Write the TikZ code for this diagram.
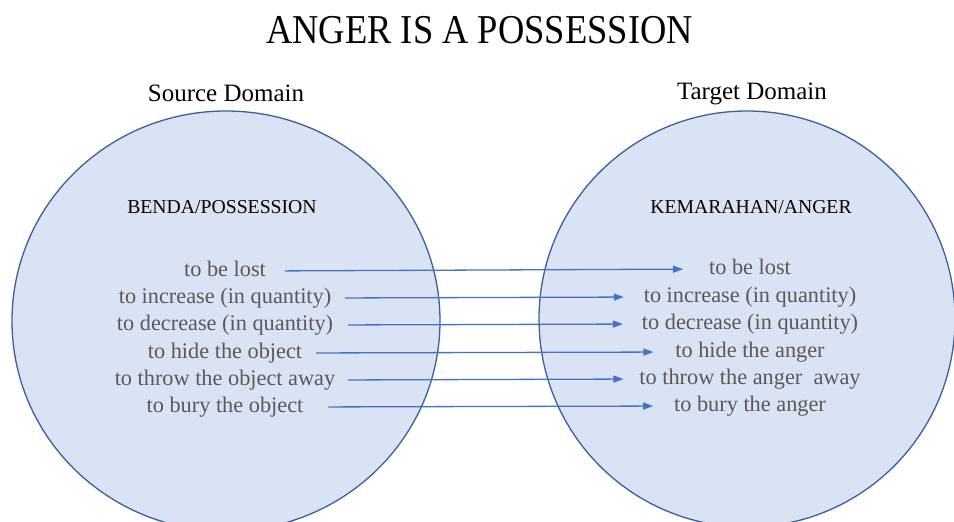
\documentclass[tikz,border=0pt]{standalone}
\usepackage{fontspec}
\usepackage{graphicx}
\setmainfont{Liberation Serif}
\usetikzlibrary{arrows.meta}

\definecolor{domainfill}{HTML}{DAE3F3}
\definecolor{domainline}{HTML}{3A5F9F}
\definecolor{maparrow}{HTML}{4472C4}
\definecolor{itemgray}{HTML}{595959}

\tikzset{
  domainarea/.style={draw=domainline, line width=1.3pt, fill=domainfill},
  heading/.style={anchor=base, inner sep=0pt, outer sep=0pt, text=black,
    font=\fontsize{25}{25}\selectfont},
  concept/.style={anchor=base, inner sep=0pt, outer sep=0pt, text=black,
    font=\fontsize{19.7}{19.7}\selectfont},
  item/.style={anchor=base, inner sep=0pt, outer sep=0pt, text=itemgray,
    text height=15pt, text depth=5pt,
    font=\fontsize{22.3}{22.3}\selectfont},
  conn/.style={draw=maparrow, line width=1.3pt,
    -{Triangle[length=10pt,width=7pt]}},
}

\begin{document}
\begin{tikzpicture}[x=1pt,y=-1pt]
  \useasboundingbox (0,0) rectangle (954,522);

  % the two domains
  \begin{scope}
    \clip (0,0) rectangle (954,522);
    \path[domainarea] (226,321) ellipse [x radius=214, y radius=210];
    \path[domainarea] (747,319) ellipse [x radius=208, y radius=208];
  \end{scope}

  % title and domain headings
  \node[anchor=base, inner sep=0pt, font=\fontsize{41}{41}\selectfont] (title)
    at (479.5,43) {\scalebox{0.89}[1]{ANGER IS A POSSESSION}};
  \node[heading] (srch) at (226,101) {Source Domain};
  \node[heading] (tgth) at (752,99) {Target Domain};

  \node[concept] (srcc) at (222,213) {BENDA/POSSESSION};
  \node[concept] (tgtc) at (751,213) {KEMARAHAN/ANGER};

  % source items
  \node[item] (s1) at (225,276) {to be lost};
  \node[item] (s2) at (225,303) {to increase (in quantity)};
  \node[item] (s3) at (225,330) {to decrease (in quantity)};
  \node[item] (s4) at (225,358) {to hide the object};
  \node[item] (s5) at (225,385) {to throw the object away};
  \node[item] (s6) at (225,412) {to bury the object};

  % target items
  \node[item] (t1) at (750,274) {to be lost};
  \node[item] (t2) at (750,302) {to increase (in quantity)};
  \node[item] (t3) at (750,329) {to decrease (in quantity)};
  \node[item] (t4) at (750,357) {to hide the anger};
  \node[item] (t5) at (750,384) {to throw the anger\ \ away};
  \node[item] (t6) at (750,411) {to bury the anger};

  % mappings
  \draw[conn, shorten <=19pt, shorten >=26pt] (s1.east) -- (t1.west);
  \draw[conn, shorten <=14pt, shorten >=20pt] (s2.east) -- (t2.west);
  \draw[conn, shorten <=15pt, shorten >=19pt] (s3.east) -- (t3.west);
  \draw[conn, shorten <=14pt, shorten >=22pt] (s4.east) -- (t4.west);
  \draw[conn, shorten <=13pt, shorten >=16pt] (s5.east) -- (t5.west);
  \draw[conn, shorten <=25pt, shorten >=21pt] (s6.east) -- (t6.west);
\end{tikzpicture}
\end{document}
